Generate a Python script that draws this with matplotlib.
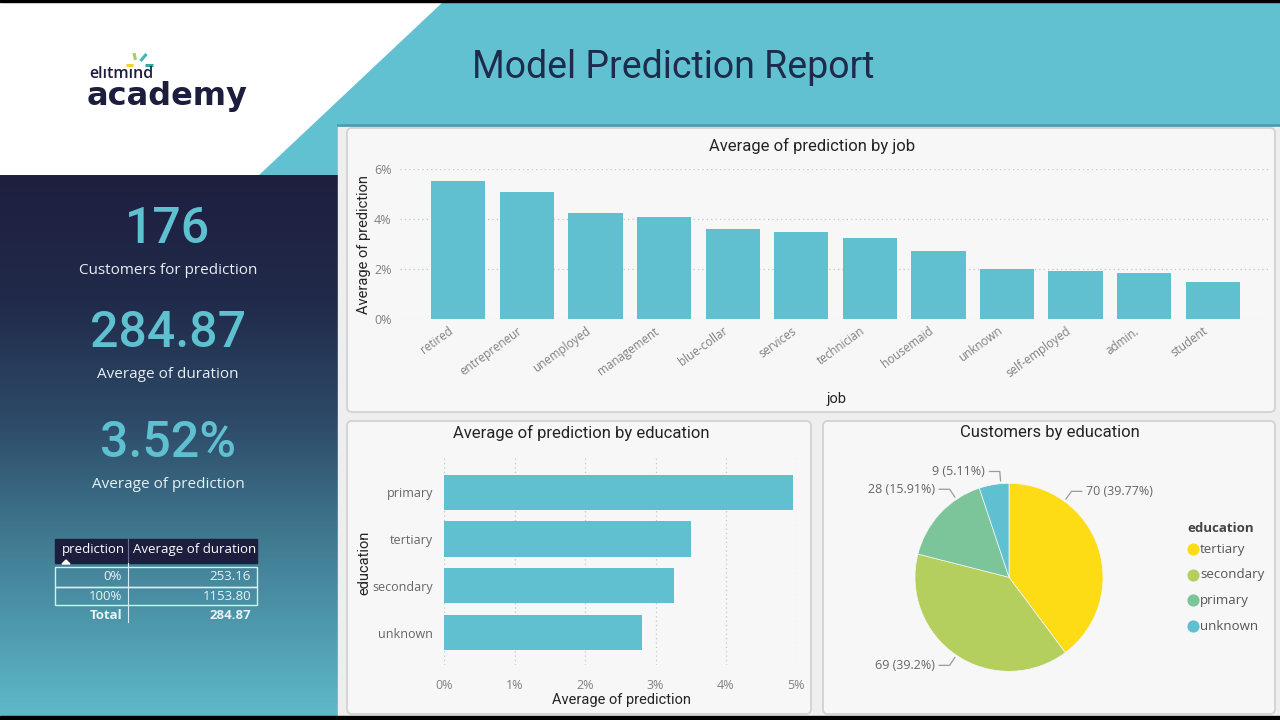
import numpy as np
import matplotlib
matplotlib.use("Agg")
import matplotlib.pyplot as plt
import matplotlib.transforms as mtransforms
from matplotlib.patches import Polygon, Rectangle, FancyBboxPatch
from matplotlib.ticker import FuncFormatter, MultipleLocator

# ---------------- data ----------------
report_title = "Model Prediction Report"
kpi_values = ["176", "284.87", "3.52%"]
kpi_labels = ["Customers for prediction", "Average of duration", "Average of prediction"]

table_header = ["prediction", "Average of duration"]
table_pred = ["0%", "100%"]
table_duration = [253.16, 1153.80]
table_total = 284.87

jobs = ["retired", "entrepreneur", "unemployed", "management", "blue-collar", "services",
        "technician", "housemaid", "unknown", "self-employed", "admin.", "student"]
job_pred = [0.0551, 0.0507, 0.0425, 0.0407, 0.0359, 0.0349,
            0.0324, 0.0273, 0.0200, 0.0191, 0.0183, 0.0148]

edu_levels = ["primary", "tertiary", "secondary", "unknown"]
edu_pred = [0.0495, 0.0350, 0.0326, 0.0281]

pie_levels = ["tertiary", "secondary", "primary", "unknown"]
pie_counts = [70, 69, 28, 9]

# ---------------- style ----------------
TEAL = "#62c1d0"
BAR = "#60c0d0"
NAVY = "#1d1e3d"
PIE_COLORS = ["#fddc15", "#b5cf5e", "#7cc49a", "#5ec0d0"]
TITLE_FONT = ["Roboto", "DejaVu Sans"]
BODY_FONT = ["Open Sans", "DejaVu Sans"]
TICK_C = "#808080"
DARK_T = "#252423"

W, H = 1280, 720
fig = plt.figure(figsize=(12.8, 7.2), dpi=100)


def px_axes(x0, y0, x1, y1):
    return fig.add_axes([x0 / W, 1 - y1 / H, (x1 - x0) / W, (y1 - y0) / H])


# ---------------- background ----------------
bg = px_axes(0, 0, W, H)
bg.set_zorder(-5)
bg.add_patch(Rectangle((0, 0), W, H, color="white", zorder=0))
bg.add_patch(Polygon([(445, 0), (W, 0), (W, 176), (258, 176)], closed=True, color=TEAL, zorder=0.5))

stops_y = [175, 300, 420, 540, 716]
stops_c = [(30, 31, 63), (33, 42, 74), (45, 74, 104), (64, 122, 145), (93, 185, 201)]
ys = np.arange(175, 717)
grad = np.stack([np.interp(ys, stops_y, [c[i] for c in stops_c]) for i in range(3)], axis=-1) / 255
bg.imshow(grad[:, None, :], extent=(0, 338, 716, 175), aspect="auto", interpolation="bilinear", zorder=1)

# container for visuals
bg.add_patch(Rectangle((338, 125), W - 338, 591, color="#eeeeee", zorder=1))
bg.plot([338, W], [124.5, 124.5], color="#4d9eac", lw=2, zorder=2)
for (x0, y0, x1, y1) in [(347, 128, 1275, 412), (347, 421, 811, 714), (823, 421, 1275, 714)]:
    bg.add_patch(FancyBboxPatch((x0, y0), x1 - x0, y1 - y0,
                                boxstyle="round,pad=0,rounding_size=5",
                                fc="#f7f7f7", ec="#d2d2d2", lw=1.3, zorder=2))

bg.add_patch(Rectangle((0, 0), W, 2, color="black", zorder=5))
bg.add_patch(Rectangle((0, 716), W, 4, color="black", zorder=5))

# logo
for (xs, yy, col) in [((126, 133), (64.5, 64.5), "#f3d327"), ((134, 135.5), (53, 60), "#a9cf55"),
                      ((146.5, 140.5), (54, 61), "#3fb8b0"), ((145, 153), (64.5, 64.5), "#2aa9a8")]:
    bg.plot(xs, yy, color=col, lw=2.2, solid_capstyle="butt", zorder=3)
bg.text(89, 77.5, "elıtmınd", fontsize=11.5, fontweight="semibold", color=NAVY, family=BODY_FONT,
        ha="left", va="baseline", zorder=3)
bg.text(87, 104.5, "academy", fontsize=23, fontweight="bold", color=NAVY,
        family=["DejaVu Sans"], ha="left", va="baseline", zorder=3)

# report title
bg.text(673, 67, report_title, fontsize=27, color="#1f2b4d", family=TITLE_FONT,
        ha="center", va="center", zorder=3)

# KPIs
kpi_y = [229, 333, 443]
for v, lab, yv in zip(kpi_values, kpi_labels, kpi_y):
    bg.text(168, yv, v, fontsize=36, fontweight="medium", color="#5fc0d0", family=TITLE_FONT,
            ha="center", va="center", zorder=3)
    bg.text(168, yv + 42, lab, fontsize=11, color="#e6f0f4", family=BODY_FONT,
            ha="center", va="center", zorder=3)

# table
tx0, tx1, tsplit = 55, 257, 128
bg.add_patch(Rectangle((tx0, 539), tx1 - tx0, 24, color=NAVY, zorder=3))
bg.text(62, 549, table_header[0], fontsize=9.5, color="white", family=BODY_FONT, ha="left", va="center", zorder=4)
bg.text(133, 549, table_header[1], fontsize=9.5, color="white", family=BODY_FONT, ha="left", va="center", zorder=4)
bg.plot([tsplit, tsplit], [539, 563], color="#6a7090", lw=0.8, zorder=4)
bg.add_patch(Polygon([(62, 564), (66, 560), (70, 564)], closed=True, color="white", zorder=4))
row_tops = [567, 587]
for i, (p, d) in enumerate(zip(table_pred, table_duration)):
    r0 = row_tops[i]
    r1 = r0 + (20 if i == 0 else 18)
    bg.add_patch(Rectangle((tx0, r0), tx1 - tx0, r1 - r0, fc="none", ec="#d8eef2", lw=1, zorder=4))
    bg.text(122, (r0 + r1) / 2, p, fontsize=9.5, color="#e8f3f6", family=BODY_FONT, ha="right", va="center", zorder=4)
    bg.text(251, (r0 + r1) / 2, f"{d:.2f}", fontsize=9.5, color="#e8f3f6", family=BODY_FONT, ha="right", va="center", zorder=4)
bg.plot([tsplit, tsplit], [563, 622], color="#d8eef2", lw=0.8, zorder=4)
bg.text(122, 615.5, "Total", fontsize=9.5, fontweight="bold", color="#e8f3f6", family=BODY_FONT, ha="right", va="center", zorder=4)
bg.text(251, 615.5, f"{table_total:.2f}", fontsize=9.5, fontweight="bold", color="#e8f3f6", family=BODY_FONT, ha="right", va="center", zorder=4)

# panel titles
bg.text(812, 146, "Average of prediction by job", fontsize=12, color=DARK_T, family=TITLE_FONT, ha="center", va="center", zorder=3)
bg.text(581, 433, "Average of prediction by education", fontsize=12, color=DARK_T, family=TITLE_FONT, ha="center", va="center", zorder=3)
bg.text(1050, 433, "Customers by education", fontsize=12, color=DARK_T, family=TITLE_FONT, ha="center", va="center", zorder=3)

pct_fmt = FuncFormatter(lambda v, _: f"{v * 100:.0f}%")

# ---------------- job bar chart ----------------
AX1 = (400, 169, 1269, 319)
ax1 = px_axes(*AX1)
ax1.set_facecolor("none")
xj = np.arange(len(jobs))
ax1.bar(xj, job_pred, width=0.79, color=BAR, zorder=3)
ax1.set_xlim(-0.85, len(jobs) - 1 + 0.82)
ax1.set_ylim(0, 0.06)
ax1.yaxis.set_major_locator(MultipleLocator(0.02))
ax1.yaxis.set_major_formatter(pct_fmt)
ax1.grid(axis="y", color="#c6c6c6", lw=0.9, linestyle=(0, (1, 2.5)), zorder=0)
ax1.tick_params(axis="y", length=0, pad=6, labelsize=9, labelcolor=TICK_C)
ax1.tick_params(axis="x", length=0, pad=4)
ax1.set_xticks(xj)
ax1.set_xticklabels(jobs, rotation=36, ha="right", va="top", rotation_mode="anchor",
                    fontsize=8.4, color=TICK_C, family=BODY_FONT)
for lab in ax1.get_yticklabels():
    lab.set_family(BODY_FONT)
for s in ax1.spines.values():
    s.set_visible(False)
ax1.set_ylabel("Average of prediction", fontsize=10.5, color=DARK_T, family=TITLE_FONT)
ax1.set_xlabel("job", fontsize=10.5, color=DARK_T, family=TITLE_FONT)
w1, h1 = AX1[2] - AX1[0], AX1[3] - AX1[1]
ax1.yaxis.set_label_coords((364 - AX1[0]) / w1, (AX1[3] - 244) / h1)
ax1.xaxis.set_label_coords((836 - AX1[0]) / w1, (AX1[3] - 399) / h1)
ax1.yaxis.label.set_va("center")
ax1.xaxis.label.set_va("center")

# ---------------- education bar chart ----------------
AX2 = (444.3, 458, 796.3, 665)
ax2 = px_axes(*AX2)
ax2.set_facecolor("none")
ye = np.arange(len(edu_levels))
ax2.barh(ye, edu_pred, height=0.75, color=BAR, zorder=3)
ax2.set_ylim(len(edu_levels) - 1 + 0.69, -0.73)
ax2.set_xlim(0, 0.05)
ax2.xaxis.set_major_locator(MultipleLocator(0.01))
ax2.xaxis.set_major_formatter(pct_fmt)
ax2.grid(axis="x", color="#c6c6c6", lw=0.9, linestyle=(0, (1, 2.5)), zorder=0)
ax2.set_yticks(ye)
ax2.set_yticklabels(edu_levels, fontsize=9, color="#666666", family=BODY_FONT)
for lab in ax2.get_xticklabels():
    lab.set_family(BODY_FONT)
ax2.tick_params(axis="y", length=0, pad=8)
ax2.tick_params(axis="x", length=0, pad=10, labelsize=9, labelcolor=TICK_C)
for s in ax2.spines.values():
    s.set_visible(False)
ax2.set_ylabel("education", fontsize=10.5, color=DARK_T, family=TITLE_FONT)
ax2.set_xlabel("Average of prediction", fontsize=10.5, color=DARK_T, family=TITLE_FONT)
w2, h2 = AX2[2] - AX2[0], AX2[3] - AX2[1]
ax2.yaxis.set_label_coords((364 - AX2[0]) / w2, (AX2[3] - 563) / h2)
ax2.xaxis.set_label_coords((621 - AX2[0]) / w2, (AX2[3] - 700) / h2)
ax2.yaxis.label.set_va("center")
ax2.xaxis.label.set_va("center")

# ---------------- pie chart ----------------
cx, cy, R = 1009, 577.3, 94
half = 140
ax3 = px_axes(cx - half, cy - half, cx + half, cy + half)
ax3.set_facecolor("none")
lim = half / R
wedges, _ = ax3.pie(pie_counts, colors=PIE_COLORS, startangle=90, counterclock=False,
                    radius=1, wedgeprops=dict(linewidth=0.5, edgecolor="#f7f7f7"))
ax3.set_xlim(-lim, lim)
ax3.set_ylim(-lim, lim)
ax3.set_aspect("equal")
ax3.set_axis_off()

total = sum(pie_counts)
label_angles = [54, 236, 124, 95]  # layout only
for cnt, ang in zip(pie_counts, label_angles):
    a = np.deg2rad(ang)
    p0 = np.array([np.cos(a), np.sin(a)]) * 1.03
    p1 = np.array([np.cos(a), np.sin(a)]) * 1.13
    side = 1 if np.cos(a) > 0 else -1
    p2 = p1 + np.array([side * 0.11, 0])
    ax3.plot([p0[0], p1[0], p2[0]], [p0[1], p1[1], p2[1]], color="#9a9a9a", lw=0.9, clip_on=False)
    pct = f"{cnt / total * 100:.2f}".rstrip("0").rstrip(".")
    ax3.text(p2[0] + side * 0.05, p2[1], f"{cnt} ({pct}%)", fontsize=9, color="#666666",
             family=BODY_FONT, ha="left" if side > 0 else "right", va="center", clip_on=False)

# legend
bg.text(1187, 528, "education", fontsize=9.5, fontweight="bold", color="#444444",
        family=BODY_FONT, ha="left", va="center", zorder=3)
for i, (lev, col) in enumerate(zip(pie_levels, PIE_COLORS)):
    yy = 549 + i * 25.7
    bg.scatter([1193], [yy], s=60, color=col, zorder=3)
    bg.text(1200, yy, lev, fontsize=9.5, color="#555555", family=BODY_FONT,
            ha="left", va="center", zorder=3)

bg.set_xlim(0, W)
bg.set_ylim(H, 0)
bg.set_axis_off()

# shift rotated job labels slightly left (after all tick settings are final)
fig.canvas.draw()
shift = mtransforms.ScaledTranslation(-10 / 100, 0, fig.dpi_scale_trans)
for tick in ax1.xaxis.get_major_ticks():
    tick.label1.set_transform(tick.label1.get_transform() + shift)

fig.savefig("out.png", dpi=100)
